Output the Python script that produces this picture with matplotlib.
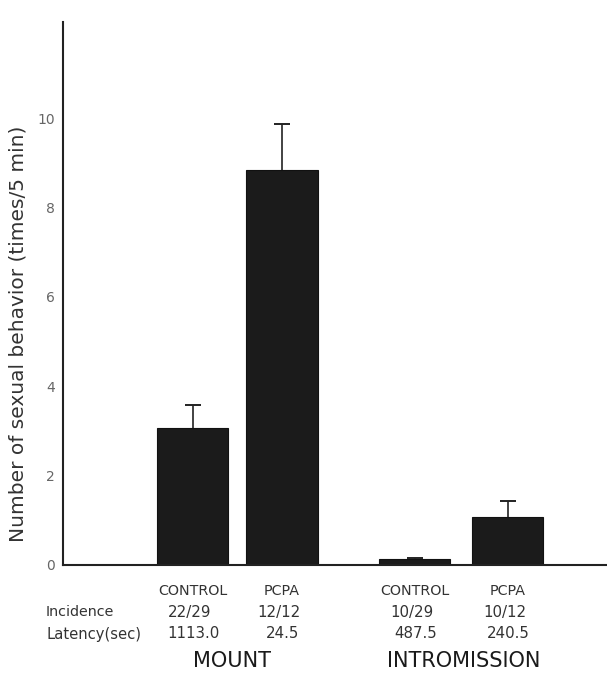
import matplotlib
matplotlib.use("Agg")
import matplotlib.pyplot as plt

# ---- data ----
groups = ["MOUNT", "MOUNT", "INTROMISSION", "INTROMISSION"]
conditions = ["CONTROL", "PCPA", "CONTROL", "PCPA"]
means = [3.07, 8.84, 0.13, 1.08]
errors = [0.51, 1.03, 0.03, 0.35]
incidence = ["22/29", "12/12", "10/29", "10/12"]
latency = ["1113.0", "24.5", "487.5", "240.5"]
yticks = [0, 2, 4, 6, 8, 10]

# ---- layout ----
positions = [0, 1, 2.48, 3.52]
W, H = 607, 675
fig = plt.figure(figsize=(W / 100, H / 100), dpi=100)
ax = fig.add_axes([63 / W, 1 - 565 / H, (607 - 63) / W, (565 - 22) / H])

ax.bar(positions, means, width=0.80, color="#1b1b1b", edgecolor="#111111", linewidth=0.8, zorder=2)
eb = ax.errorbar(positions, means, yerr=[[0] * 4, errors], fmt="none", ecolor="#222222",
                 elinewidth=1.2, capsize=6, capthick=1.4, zorder=3)
caps = eb[1]
if len(caps) >= 2:
    caps[0].set_visible(False)

ax.set_xlim(-1.447, 4.63)
ax.set_ylim(0, 12.15)
ax.set_yticks(yticks)
ax.set_yticklabels([str(t) for t in yticks], fontsize=10, color="#666666")
ax.set_xticks([])
ax.tick_params(axis="y", length=0, pad=6)
for s in ["top", "right"]:
    ax.spines[s].set_visible(False)
for s in ["left", "bottom"]:
    ax.spines[s].set_linewidth(1.5)
    ax.spines[s].set_color("#222222")

fig.text(18 / W, 1 - 334 / H, "Number of sexual behavior (times/5 min)", rotation=90,
         ha="center", va="center", fontsize=14.5, color="#333333")

def fx(p):
    return (192.5 + p * 89.5) / W

txtc = "#333333"
for p, c, inc, lat in zip(positions, conditions, incidence, latency):
    fig.text(fx(p), 1 - 591 / H, c, ha="center", va="center", fontsize=10.3, color=txtc)
    fig.text(fx(p) - 3 / W, 1 - 612 / H, inc, ha="center", va="center", fontsize=10.8, color=txtc)
    fig.text(fx(p) + 1 / W, 1 - 634 / H, lat, ha="center", va="center", fontsize=10.8, color=txtc)

fig.text(46 / W, 1 - 612 / H, "Incidence", ha="left", va="center", fontsize=10.3, color=txtc)
fig.text(46 / W, 1 - 634 / H, "Latency(sec)", ha="left", va="center", fontsize=10.6, color=txtc)

group_names = ["MOUNT", "INTROMISSION"]
group_centers = [232, 464]
for g, cx in zip(group_names, group_centers):
    fig.text(cx / W, 1 - 661 / H, g, ha="center", va="center", fontsize=15, color="#1a1a1a")

fig.savefig("out.png", dpi=100)
